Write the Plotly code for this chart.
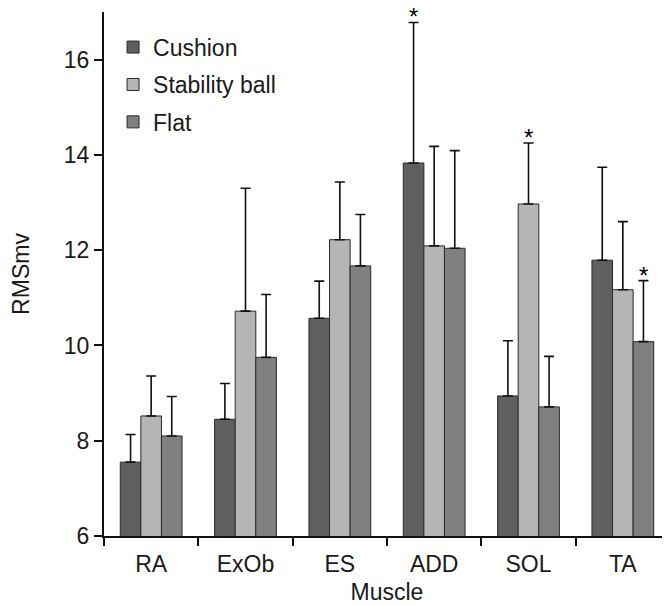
import plotly.graph_objects as go

muscles = ["RA", "ExOb", "ES", "ADD", "SOL", "TA"]
cushion = [7.55, 8.45, 10.57, 13.83, 8.94, 11.79]
cushion_top = [8.13, 9.20, 11.35, 16.78, 10.10, 13.74]
stability = [8.52, 10.72, 12.22, 12.09, 12.97, 11.17]
stability_top = [9.36, 13.30, 13.43, 14.18, 14.25, 12.60]
flat = [8.10, 9.75, 11.67, 12.04, 8.71, 10.08]
flat_top = [8.93, 11.07, 12.75, 14.09, 9.77, 11.36]

series = [
    ("Cushion", cushion, cushion_top, "#5f5f5f"),
    ("Stability ball", stability, stability_top, "#b5b5b5"),
    ("Flat", flat, flat_top, "#808080"),
]

# significance markers: (muscle, series index)
stars = [("ADD", 0), ("SOL", 1), ("TA", 2)]

FONT = "Liberation Sans, Arial, sans-serif"
FS = 23
fig = go.Figure()
for i, (name, vals, tops, col) in enumerate(series):
    fig.add_trace(go.Bar(
        x=muscles, y=vals, name=name, legendgroup=name,
        marker=dict(color=col, line=dict(color="#2a2a2a", width=1)),
        error_y=dict(type="data", symmetric=False,
                     array=[t - v for t, v in zip(tops, vals)],
                     arrayminus=[0] * len(vals),
                     color="#111", thickness=1.6, width=5),
    ))

bar_px = 20.7
for m, si in stars:
    idx = muscles.index(m)
    tops = series[si][2]
    fig.add_annotation(x=m, y=tops[idx], xref="x", yref="y", text="*",
                       showarrow=False, yanchor="bottom", yshift=-10,
                       xshift=(si - 1) * bar_px,
                       font=dict(size=24, color="#000", family=FONT))

fig.update_layout(
    width=662, height=597,
    margin=dict(l=96, r=0, t=4, b=69),
    paper_bgcolor="white", plot_bgcolor="white",
    barmode="group", bargap=0.345, bargroupgap=0,
    font=dict(family=FONT, size=FS, color="#1a1a1a"),
    showlegend=True,
    legend=dict(x=0.016, y=0.974, xanchor="left", yanchor="top",
                tracegroupgap=4.5, font=dict(size=FS),
                bgcolor="rgba(0,0,0,0)", itemwidth=30),
    xaxis=dict(title=dict(text="Muscle", font=dict(size=FS)),
               automargin=False,
               showline=True, linecolor="#111", linewidth=2,
               ticks="outside", tickson="boundaries", ticklen=8,
               tickcolor="#111", tickwidth=2, showgrid=False,
               ticklabelstandoff=6,
               tickfont=dict(size=FS)),
    yaxis=dict(title=dict(text="RMSmv", font=dict(size=FS), standoff=35),
               automargin=False,
               range=[6, 17], tickvals=[6, 8, 10, 12, 14, 16],
               showline=True, linecolor="#111", linewidth=2,
               ticks="outside", ticklen=8, tickcolor="#111", tickwidth=2,
               showgrid=False, zeroline=False, tickfont=dict(size=FS)),
)

fig.write_html("out.html")
